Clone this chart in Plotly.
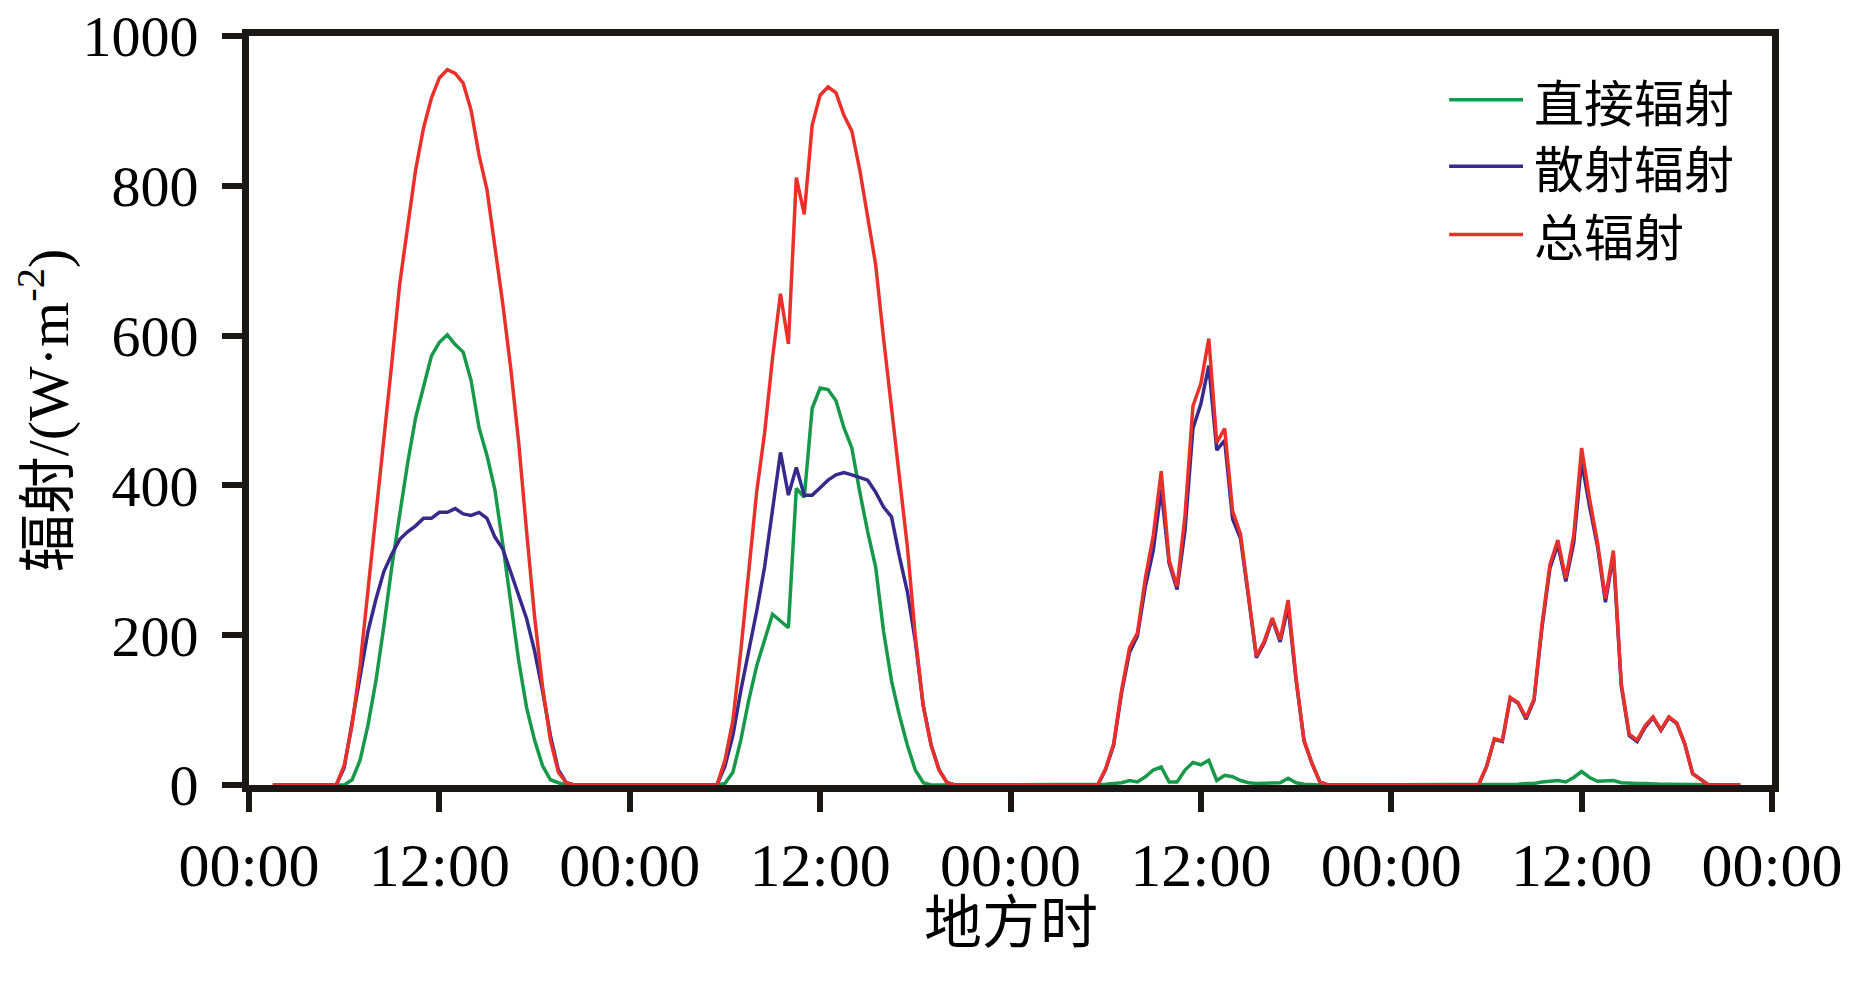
import plotly.graph_objects as go

# Local solar time in hours (half-hourly samples)
hours = [1.5 + 0.5 * i for i in range(186)]

# 直接辐射 (direct radiation), W/m2
direct = [
    0, 0, 0, 0, 0, 0, 0, 0, 0,
    0, 7, 33, 80, 139, 212, 291, 361, 430, 490, 530, 573, 591, 601, 588,
    578, 540, 477, 440, 394, 321, 245, 166, 103, 60, 26, 7, 3, 0,
    0, 0, 0, 0, 0, 0, 0, 0, 0, 0, 0, 0, 0, 0, 0, 0, 0, 0, 0,
    2, 17, 60, 113, 159, 192, 228, 219, 210, 396, 384, 503, 530, 528, 513,
    477, 450, 391, 338, 291, 205, 139, 93, 53, 20, 3, 0, 0, 0,
    0, 0, 0, 0, 0, 0, 0, 0, 0, 0, 0, 0, 0, 0, 0, 0, 0, 0, 0,
    1, 2, 3, 6, 4, 11, 20, 24, 4, 4, 20, 30, 27, 33, 6,
    13, 11, 6, 3, 2, 2, 2, 3, 9, 3, 1, 0, 0,
    0, 0, 0, 0, 0, 0, 0, 0, 0, 0, 0, 0, 0, 0, 0, 0, 0, 0, 0, 0,
    0, 1, 1, 1, 1, 2, 2, 4, 5, 6, 4, 10, 18, 10,
    5, 5, 6, 3, 2, 2, 2, 1, 1, 1, 1, 0, 0, 0,
    0, 0, 0, 0, 0,
]

# 散射辐射 (diffuse radiation), W/m2
diffuse = [
    0, 0, 0, 0, 0, 0, 0, 0, 0,
    23, 83, 146, 205, 248, 285, 308, 328, 338, 346, 356, 356, 364, 364, 369,
    362, 360, 364, 356, 331, 315, 285, 252, 222, 179, 126, 66, 20, 3,
    0, 0, 0, 0, 0, 0, 0, 0, 0, 0, 0, 0, 0, 0, 0, 0, 0, 0, 0,
    25, 66, 126, 179, 232, 291, 364, 444, 387, 424, 387, 387, 397, 407, 414,
    417, 414, 411, 407, 391, 371, 358, 305, 258, 192, 106, 53, 20, 3,
    0, 0, 0, 0, 0, 0, 0, 0, 0, 0, 0, 0, 0, 0, 0, 0, 0, 0, 0,
    21, 53, 123, 177, 199, 265, 313, 395, 296, 261, 340, 476, 509, 560, 447,
    460, 355, 329, 251, 170, 190, 221, 191, 238, 140, 59, 29, 4,
    0, 0, 0, 0, 0, 0, 0, 0, 0, 0, 0, 0, 0, 0, 0, 0, 0, 0, 0, 0,
    24, 61, 58, 116, 109, 88, 113, 210, 289, 321, 272, 323, 432, 372,
    319, 244, 307, 132, 66, 58, 77, 90, 73, 90, 82, 55, 15, 8,
    0, 0, 0, 0, 0,
]

# 总辐射 (global radiation), W/m2
total = [
    0, 0, 0, 0, 0, 0, 0, 0, 0,
    26, 80, 159, 258, 358, 457, 563, 669, 748, 821, 877, 917, 944, 955, 950,
    937, 901, 841, 795, 722, 642, 556, 457, 338, 225, 132, 60, 17, 3,
    0, 0, 0, 0, 0, 0, 0, 0, 0, 0, 0, 0, 0, 0, 0, 0, 0, 0, 0,
    33, 86, 179, 285, 391, 470, 570, 656, 589, 811, 762, 881, 921, 932, 924,
    894, 873, 821, 755, 695, 596, 503, 404, 318, 199, 106, 53, 20, 3,
    0, 0, 0, 0, 0, 0, 0, 0, 0, 0, 0, 0, 0, 0, 0, 0, 0, 0, 0,
    22, 55, 126, 183, 203, 276, 333, 419, 300, 265, 360, 506, 536, 596, 457,
    476, 366, 335, 254, 172, 192, 223, 194, 247, 143, 60, 29, 4,
    0, 0, 0, 0, 0, 0, 0, 0, 0, 0, 0, 0, 0, 0, 0, 0, 0, 0, 0, 0,
    24, 62, 59, 117, 110, 90, 115, 214, 294, 327, 276, 333, 450, 382,
    324, 249, 313, 135, 68, 60, 79, 91, 74, 91, 83, 55, 15, 8,
    0, 0, 0, 0, 0,
]

series_names = ["直接辐射", "散射辐射", "总辐射"]
series_colors = ["#16994a", "#372a8a", "#e8312a"]

x_tick_vals = [0, 12, 24, 36, 48, 60, 72, 84, 96]
x_tick_text = ["00:00", "12:00", "00:00", "12:00", "00:00", "12:00", "00:00", "12:00", "00:00"]
y_tick_vals = [0, 200, 400, 600, 800, 1000]

AX = "#1a1714"
SERIF = "Liberation Serif, Noto Sans CJK SC"
CJK = "Noto Sans CJK SC"

fig = go.Figure()
for name, color, ys in zip(series_names, series_colors, [direct, diffuse, total]):
    fig.add_trace(go.Scatter(x=hours, y=ys, mode="lines", name=name,
                             line=dict(color=color, width=3.5), showlegend=False))

# manual legend (long line samples like the reference)
leg_rows = [0.915, 0.826, 0.735]
for name, color, yy in zip(series_names, series_colors, leg_rows):
    fig.add_shape(type="line", xref="paper", yref="paper", x0=0.788, x1=0.8365,
                  y0=yy, y1=yy, line=dict(color=color, width=3.5))
    fig.add_annotation(xref="paper", yref="paper", x=0.843, y=yy, text=name,
                       showarrow=False, xanchor="left", yanchor="middle", borderpad=0,
                       font=dict(family=CJK, size=50, color="black"))

# x-axis title placed as text below the tick labels
fig.add_annotation(xref="paper", yref="paper", x=0.5, y=-0.178, text="地方时",
                   showarrow=False, xanchor="center", yanchor="middle", borderpad=0,
                   font=dict(family=CJK, size=58, color="black"))

fig.update_layout(
    width=1866, height=991,
    margin=dict(l=241, r=102, t=28, b=214),
    paper_bgcolor="white", plot_bgcolor="white",
    showlegend=False,
)
fig.update_xaxes(
    range=[0, 96], tickvals=x_tick_vals, ticktext=x_tick_text,
    ticks="outside", ticklen=20, tickwidth=6, tickcolor=AX,
    showline=True, linewidth=7, linecolor=AX, mirror=True,
    showgrid=False, zeroline=False, automargin=False, ticklabeloverflow="allow",
    tickfont=dict(family=SERIF, size=62, color="black"),
)
fig.update_yaxes(
    range=[0, 1000], tickvals=y_tick_vals,
    ticks="outside", ticklen=20, tickwidth=6, tickcolor=AX,
    showline=True, linewidth=7, linecolor=AX, mirror=True,
    showgrid=False, zeroline=False, automargin=False, ticklabelstandoff=12,
    ticklabeloverflow="allow",
    tickfont=dict(family=SERIF, size=58, color="black"),
    title=dict(text="辐射/(W·m<sup>-2</sup>)", font=dict(family=SERIF, size=58, color="black"), standoff=32),
)

fig.write_html("out.html")
